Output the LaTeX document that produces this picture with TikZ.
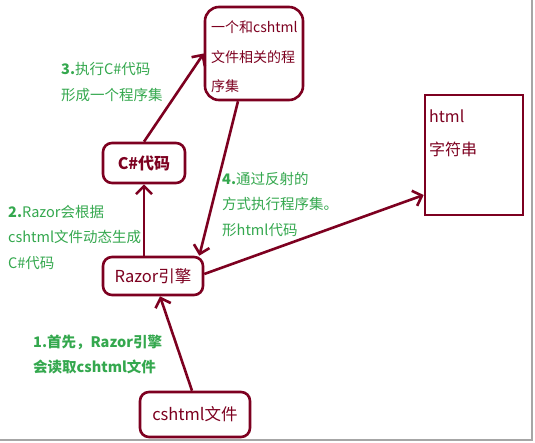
\documentclass[tikz,border=0pt]{standalone}
\usepackage{fontspec}
\setmainfont{Noto Sans CJK SC}
\usetikzlibrary{arrows.meta}
\definecolor{wine}{RGB}{125,0,32}
\definecolor{lgreen}{RGB}{52,168,78}
\begin{document}
\begin{tikzpicture}[x=1pt,y=-1pt,
  box/.style={draw=wine,line width=2.6pt,rounded corners=9pt,text=wine,inner sep=0pt,font=\fontsize{16.5}{18}\selectfont},
  lbl/.style={text=lgreen,anchor=north west,align=left,inner sep=0pt,font=\fontsize{14.5}{25.5}\selectfont},
  txt/.style={text=wine,anchor=north west,align=left,inner sep=0pt},
  link/.style={draw=wine,line width=2.6pt,-{Straight Barb[length=8pt,width=16pt,line width=2.6pt]}}]
\useasboundingbox (0,0) rectangle (535,443);
\fill[white] (0,0) rectangle (535,443);
\draw[gray!70,line width=2pt] (532,0) -- (532,440) -- (0,440);
% nodes
\node[box,minimum width=98pt,minimum height=93pt,rounded corners=14pt] (prog) at (254,53.5) {};
\node[txt,font=\fontsize{14}{26.5}\selectfont] (progt) at (211,21) {一个和cshtml\\[3pt]文件相关的程\\[3pt]序集};
\node[box,minimum width=82pt,minimum height=40pt,font=\fontsize{16}{18}\selectfont\bfseries] (cs) at (144,163) {C\#代码};
\node[box,minimum width=100pt,minimum height=38pt] (razor) at (153,276) {Razor引擎};
\node[box,minimum width=110pt,minimum height=45pt] (file) at (195,414.5) {cshtml文件};
\node[box,rounded corners=0pt,minimum width=98pt,minimum height=120pt] (html) at (474,155) {};
\node[txt,font=\fontsize{16}{30}\selectfont] (htmlt) at (429,110) {html\\[3pt]字符串};
% labels
\node[lbl] (l3) at (61,62.5) {\textbf{3.}执行C\#代码\\形成一个程序集};
\node[lbl] (l2) at (8,205) {\textbf{2.}Razor会根据\\cshtml文件动态生成\\C\#代码};
\node[lbl] (l4) at (222,172) {\textbf{4.}通过反射的\\方式执行程序集。\\形html代码};
\node[lbl,font=\fontsize{14.5}{25}\selectfont\bfseries] (l1) at (33,335) {1.首先，Razor引擎\\会读取cshtml文件};
% connectors
\draw[link] (cs.north) -- (prog.west);
\draw[link] ([xshift=-16pt]prog.south) -- ([xshift=-5pt]razor.north east);
\draw[link] (cs.south |- razor.north) -- (cs.south);
\draw[link] ([xshift=-3pt]file.north) -- ([xshift=7pt]razor.south);
\draw[link] ([yshift=2pt]razor.east) -- ([yshift=-40pt]html.west);
\end{tikzpicture}
\end{document}
